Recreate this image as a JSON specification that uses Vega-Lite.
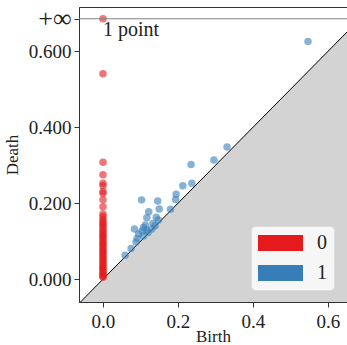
{
  "$schema": "https://vega.github.io/schema/vega-lite/v6.json",
  "width": 268,
  "height": 295,
  "autosize": {"type": "none"},
  "padding": {"left": 79, "top": 7, "right": 0, "bottom": 43},
  "config": {
    "view": {"stroke": "#333333", "strokeWidth": 1},
    "font": "Liberation Serif",
    "axis": {
      "grid": false,
      "domainColor": "#333333",
      "tickColor": "#333333",
      "tickSize": 5,
      "labelFont": "Liberation Serif",
      "labelFontSize": 19,
      "labelColor": "#222222",
      "titleFont": "Liberation Serif",
      "titleFontSize": 17,
      "titleFontWeight": "normal",
      "titleColor": "#222222"
    },
    "legend": {
      "orient": "none",
      "legendX": 172,
      "legendY": 219,
      "fillColor": "#f6f6f6",
      "strokeColor": "#dddddd",
      "cornerRadius": 4,
      "padding": 7,
      "symbolType": "M-1,-0.36L1,-0.36L1,0.36L-1,0.36Z",
      "symbolSize": 2025,
      "symbolOpacity": 1,
      "symbolStrokeWidth": 0,
      "clipHeight": 20,
      "labelFont": "Liberation Serif",
      "labelFontSize": 20,
      "labelColor": "#222222",
      "labelOffset": 14,
      "rowPadding": 10
    }
  },
  "datasets": {
    "diag": [{"x": -0.2, "y": -0.2}, {"x": 0.8, "y": 0.8}],
    "pts": [
      {"birth": 0, "death": 0.686, "dim": "0"},
      {"birth": 0, "death": 0.541, "dim": "0"},
      {"birth": 0, "death": 0.308, "dim": "0"},
      {"birth": 0, "death": 0.275, "dim": "0"},
      {"birth": 0, "death": 0.253, "dim": "0"},
      {"birth": 0, "death": 0.246, "dim": "0"},
      {"birth": 0, "death": 0.231, "dim": "0"},
      {"birth": 0, "death": 0.226, "dim": "0"},
      {"birth": 0, "death": 0.209, "dim": "0"},
      {"birth": 0, "death": 0.191, "dim": "0"},
      {"birth": 0, "death": 0.172, "dim": "0"},
      {"birth": 0, "death": 0.165, "dim": "0"},
      {"birth": 0, "death": 0.158, "dim": "0"},
      {"birth": 0, "death": 0.152, "dim": "0"},
      {"birth": 0, "death": 0.147, "dim": "0"},
      {"birth": 0, "death": 0.142, "dim": "0"},
      {"birth": 0, "death": 0.137, "dim": "0"},
      {"birth": 0, "death": 0.131, "dim": "0"},
      {"birth": 0, "death": 0.126, "dim": "0"},
      {"birth": 0, "death": 0.121, "dim": "0"},
      {"birth": 0, "death": 0.116, "dim": "0"},
      {"birth": 0, "death": 0.112, "dim": "0"},
      {"birth": 0, "death": 0.107, "dim": "0"},
      {"birth": 0, "death": 0.102, "dim": "0"},
      {"birth": 0, "death": 0.097, "dim": "0"},
      {"birth": 0, "death": 0.093, "dim": "0"},
      {"birth": 0, "death": 0.088, "dim": "0"},
      {"birth": 0, "death": 0.083, "dim": "0"},
      {"birth": 0, "death": 0.078, "dim": "0"},
      {"birth": 0, "death": 0.074, "dim": "0"},
      {"birth": 0, "death": 0.069, "dim": "0"},
      {"birth": 0, "death": 0.065, "dim": "0"},
      {"birth": 0, "death": 0.060, "dim": "0"},
      {"birth": 0, "death": 0.055, "dim": "0"},
      {"birth": 0, "death": 0.050, "dim": "0"},
      {"birth": 0, "death": 0.046, "dim": "0"},
      {"birth": 0, "death": 0.041, "dim": "0"},
      {"birth": 0, "death": 0.036, "dim": "0"},
      {"birth": 0, "death": 0.032, "dim": "0"},
      {"birth": 0, "death": 0.028, "dim": "0"},
      {"birth": 0, "death": 0.024, "dim": "0"},
      {"birth": 0, "death": 0.020, "dim": "0"},
      {"birth": 0, "death": 0.016, "dim": "0"},
      {"birth": 0, "death": 0.012, "dim": "0"},
      {"birth": 0, "death": 0.008, "dim": "0"},
      {"birth": 0, "death": 0.005, "dim": "0"},
      {"birth": 0.547, "death": 0.626, "dim": "1"},
      {"birth": 0.331, "death": 0.348, "dim": "1"},
      {"birth": 0.296, "death": 0.314, "dim": "1"},
      {"birth": 0.235, "death": 0.302, "dim": "1"},
      {"birth": 0.213, "death": 0.246, "dim": "1"},
      {"birth": 0.237, "death": 0.253, "dim": "1"},
      {"birth": 0.195, "death": 0.224, "dim": "1"},
      {"birth": 0.194, "death": 0.210, "dim": "1"},
      {"birth": 0.103, "death": 0.209, "dim": "1"},
      {"birth": 0.146, "death": 0.206, "dim": "1"},
      {"birth": 0.180, "death": 0.184, "dim": "1"},
      {"birth": 0.150, "death": 0.185, "dim": "1"},
      {"birth": 0.122, "death": 0.178, "dim": "1"},
      {"birth": 0.117, "death": 0.162, "dim": "1"},
      {"birth": 0.142, "death": 0.163, "dim": "1"},
      {"birth": 0.148, "death": 0.156, "dim": "1"},
      {"birth": 0.133, "death": 0.147, "dim": "1"},
      {"birth": 0.139, "death": 0.141, "dim": "1"},
      {"birth": 0.113, "death": 0.143, "dim": "1"},
      {"birth": 0.130, "death": 0.132, "dim": "1"},
      {"birth": 0.084, "death": 0.132, "dim": "1"},
      {"birth": 0.108, "death": 0.136, "dim": "1"},
      {"birth": 0.117, "death": 0.129, "dim": "1"},
      {"birth": 0.104, "death": 0.127, "dim": "1"},
      {"birth": 0.120, "death": 0.123, "dim": "1"},
      {"birth": 0.095, "death": 0.119, "dim": "1"},
      {"birth": 0.091, "death": 0.107, "dim": "1"},
      {"birth": 0.108, "death": 0.114, "dim": "1"},
      {"birth": 0.088, "death": 0.098, "dim": "1"},
      {"birth": 0.075, "death": 0.081, "dim": "1"},
      {"birth": 0.059, "death": 0.063, "dim": "1"}
    ]
  },
  "layer": [
    {
      "data": {"name": "diag"},
      "mark": {"type": "area", "color": "#d3d3d3", "clip": true},
      "encoding": {
        "x": {"field": "x", "type": "quantitative", "scale": {"domain": [-0.064, 0.651], "nice": false, "zero": false},
          "axis": {"values": [0, 0.2, 0.4, 0.6], "format": ".1f", "title": "Birth", "labelPadding": 5, "titlePadding": -3}},
        "y": {"field": "y", "type": "quantitative", "scale": {"domain": [-0.06, 0.717], "nice": false, "zero": false},
          "axis": {"values": [0, 0.2, 0.4, 0.6, 0.686], "labelExpr": "datum.value > 0.65 ? '+∞' : format(datum.value, '.3f')",
            "labelFontSize": {"condition": {"test": "datum.value > 0.65", "value": 26}, "value": 19},
            "title": "Death", "labelPadding": 3, "titlePadding": 7}},
        "y2": {"datum": -0.2}
      }
    },
    {
      "data": {"name": "diag"},
      "mark": {"type": "line", "color": "#000000", "strokeWidth": 1, "clip": true},
      "encoding": {
        "x": {"field": "x", "type": "quantitative"},
        "y": {"field": "y", "type": "quantitative"}
      }
    },
    {
      "data": {"name": "pts"},
      "mark": {"type": "circle", "size": 56, "opacity": 0.6, "strokeWidth": 0},
      "encoding": {
        "x": {"field": "birth", "type": "quantitative"},
        "y": {"field": "death", "type": "quantitative"},
        "color": {"field": "dim", "type": "nominal", "scale": {"domain": ["0", "1"], "range": ["#e41a1c", "#377eb8"]}, "legend": {"title": null}}
      }
    },
    {
      "data": {"values": [{"inf": 0.686}]},
      "mark": {"type": "rule", "color": "#808080", "strokeWidth": 1},
      "encoding": {"y": {"field": "inf", "type": "quantitative"}}
    },
    {
      "data": {"values": [{"x": 0, "y": 0.683, "label": "1 point"}]},
      "mark": {"type": "text", "align": "left", "baseline": "top", "fontSize": 20, "font": "Liberation Serif", "color": "#222222"},
      "encoding": {"x": {"field": "x", "type": "quantitative"}, "y": {"field": "y", "type": "quantitative"}, "text": {"field": "label"}}
    }
  ]
}
